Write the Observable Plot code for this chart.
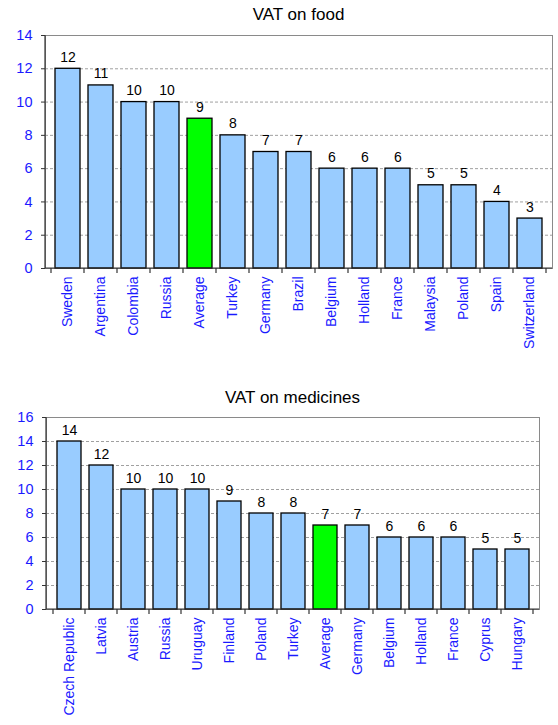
<!DOCTYPE html>
<html>
<head>
<meta charset="utf-8">
<script src="https://cdn.jsdelivr.net/npm/d3@7"></script>
<script src="https://cdn.jsdelivr.net/npm/@observablehq/plot@0.6"></script>
<style>
  html, body { margin: 0; padding: 0; background: #fff; }
  body { width: 558px; height: 725px; overflow: hidden; font-family: "Liberation Sans", Arial, sans-serif; }
  .title { font-size: 17px; color: #000; text-align: center; box-sizing: border-box; white-space: pre; }
  svg { display: block; }
</style>
</head>
<body>
<div id="t1" class="title" style="height:28px;line-height:30px;padding-left:45px;width:552px;">VAT on food</div>
<div id="c1"></div>
<div id="t2" class="title" style="height:34px;padding-top:12px;line-height:22px;padding-left:46px;width:539px;">VAT on medicines</div>
<div id="c2"></div>
<script>
// VAT rates on food (%)
const foodCountries = ["Sweden", "Argentina", "Colombia", "Russia", "Average", "Turkey", "Germany", "Brazil", "Belgium", "Holland", "France", "Malaysia", "Poland", "Spain", "Switzerland"];
const foodRates = [12, 11, 10, 10, 9, 8, 7, 7, 6, 6, 6, 5, 5, 4, 3];
const foodTicks = [0, 2, 4, 6, 8, 10, 12, 14];

// VAT rates on medicines (%)
const medCountries = ["Czech Republic", "Latvia", "Austria", "Russia", "Uruguay", "Finland", "Poland", "Turkey", "Average", "Germany", "Belgium", "Holland", "France", "Cyprus", "Hungary"];
const medRates = [14, 12, 10, 10, 10, 9, 8, 8, 7, 7, 6, 6, 6, 5, 5];
const medTicks = [0, 2, 4, 6, 8, 10, 12, 14, 16];

const FONT = "Liberation Sans, Arial, sans-serif";
const BLUE = "#1a1aff";

// Axis lines and the small tick marks that sit between the categories
function axisFrame(categories) {
  return (index, scales, values, dims) => {
    const {x, y} = scales;
    const step = x(categories[1]) - x(categories[0]);
    const bw = x.bandwidth ? x.bandwidth() : step * 0.75;
    const gap = (step - bw) / 2;
    const edges = categories.map(c => x(c) - gap);
    edges.push(x(categories[categories.length - 1]) + bw + gap);
    const y0 = y(0);
    const g = d3.create("svg:g").attr("stroke", "#333").attr("stroke-width", 1.2);
    g.selectAll("line.t").data(edges).join("line")
      .attr("x1", d => d).attr("x2", d => d)
      .attr("y1", y0).attr("y2", y0 + 5);
    g.append("line")
      .attr("x1", dims.marginLeft).attr("x2", dims.width - dims.marginRight)
      .attr("y1", y0).attr("y2", y0);
    g.append("line")
      .attr("x1", dims.marginLeft).attr("x2", dims.marginLeft)
      .attr("y1", dims.marginTop).attr("y2", y0);
    return g.node();
  };
}

function vatChart({categories, rates, ticks, height, marginTop, marginBottom, marginLeft, marginRight}) {
  const rows = categories.map((c, i) => ({country: c, rate: rates[i]}));
  return Plot.plot({
    width: 558,
    height,
    marginTop, marginBottom, marginLeft, marginRight,
    style: {fontFamily: FONT, background: "transparent"},
    x: {domain: categories, paddingInner: 0.25, paddingOuter: 0.125, label: null},
    y: {domain: [0, ticks[ticks.length - 1]], label: null},
    marks: [
      Plot.gridY(ticks.slice(1), {stroke: "#a0a0a0", strokeOpacity: 1, strokeDasharray: "3,2"}),
      Plot.frame({stroke: "#8a8a8a"}),
      Plot.barY(rows, {
        x: "country", y: "rate",
        fill: d => d.country === "Average" ? "#00ff00" : "#99ccff",
        stroke: "#000", strokeWidth: 1.3
      }),
      Plot.text(rows, {
        x: "country", y: "rate", text: d => String(d.rate),
        dy: -7, lineAnchor: "bottom", fontSize: 14, fill: "#000"
      }),
      axisFrame(categories),
      Plot.axisY(ticks, {
        tickSize: 4, tickPadding: 9, fontSize: 14.5, color: BLUE, stroke: "#333", strokeOpacity: 1
      }),
      Plot.axisX({
        tickSize: 0, tickPadding: 8, tickRotate: -90, fontSize: 14, color: BLUE
      })
    ]
  });
}

document.getElementById("c1").append(vatChart({
  categories: foodCountries, rates: foodRates, ticks: foodTicks,
  height: 347, marginTop: 7, marginBottom: 107, marginLeft: 45, marginRight: 6
}));

document.getElementById("c2").append(vatChart({
  categories: medCountries, rates: medRates, ticks: medTicks,
  height: 316, marginTop: 8, marginBottom: 116, marginLeft: 46, marginRight: 19
}));
</script>
</body>
</html>
